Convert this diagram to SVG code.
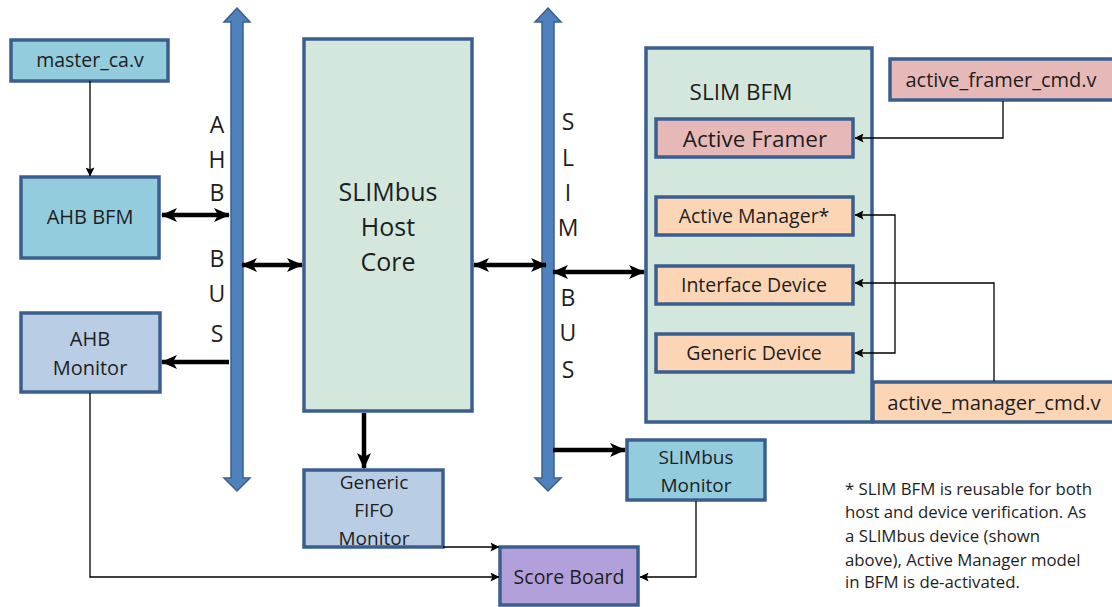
<svg xmlns="http://www.w3.org/2000/svg" width="1112" height="607" viewBox="0 0 1112 607">
<style>
.box{stroke:#3A5F8F;stroke-width:3.5}
.blue{fill:#93CDDD}
.grey{fill:#B9CDE5}
.green{fill:#D3E7DD}
.pink{fill:#E6B9B8}
.peach{fill:#FCD5B5}
.purple{fill:#B2A0DA}
.bus{fill:#4F81BD;stroke:#3A5F8F;stroke-width:1.5}
text{font-family:"Open Sans","Liberation Sans",sans-serif;fill:#1E1E1E;text-anchor:middle}
.thick{stroke:#000;stroke-width:4.5;fill:none}
.thin{stroke:#000;stroke-width:1.3;fill:none}
</style>
<defs>
<marker id="ah" markerUnits="userSpaceOnUse" viewBox="0 0 16 14" markerWidth="16" markerHeight="14" refX="15" refY="7" orient="auto-start-reverse">
<path d="M0,0 L16,7 L0,14 L4,7 z" fill="#000"/>
</marker>
<marker id="as" markerUnits="userSpaceOnUse" viewBox="0 0 10 10" markerWidth="9" markerHeight="9" refX="9.5" refY="5" orient="auto">
<path d="M0,0 L10,5 L0,10 L2,5 z" fill="#000"/>
</marker>
</defs>

<g id="ahb-bus">
<polygon class="bus" points="237,8 250,22 243,22 243,478 250,478 237,491 224,478 231,478 231,22 224,22"/>
<text x="217" y="133" font-size="23">A</text>
<text x="217" y="168" font-size="23">H</text>
<text x="217" y="201" font-size="23">B</text>
<text x="217" y="267" font-size="23">B</text>
<text x="217" y="302" font-size="23">U</text>
<text x="217" y="342" font-size="23">S</text>
</g>
<g id="slim-bus">
<polygon class="bus" points="548,8 561,22 554,22 554,478 561,478 548,491 535,478 542,478 542,22 535,22"/>
<text x="568" y="130" font-size="23">S</text>
<text x="568" y="166" font-size="23">L</text>
<text x="568" y="201" font-size="23">I</text>
<text x="568" y="236" font-size="23">M</text>
<text x="568" y="306" font-size="23">B</text>
<text x="568" y="341" font-size="23">U</text>
<text x="568" y="378" font-size="23">S</text>
</g>

<g id="master_ca">
<rect class="box blue" x="11" y="40" width="157" height="41"/>
<text x="90" y="67" font-size="19.5">master_ca.v</text>
</g>
<g id="ahb_bfm">
<rect class="box blue" x="21" y="177" width="138" height="81"/>
<text x="90" y="224" font-size="20">AHB BFM</text>
</g>
<g id="ahb_monitor">
<rect class="box grey" x="21" y="313" width="139" height="79"/>
<text x="90" y="346" font-size="20">AHB</text>
<text x="90" y="375" font-size="20">Monitor</text>
</g>
<g id="host_core">
<rect class="box green" x="304" y="39" width="168" height="372"/>
<text x="388" y="201" font-size="25">SLIMbus</text>
<text x="388" y="236" font-size="25">Host</text>
<text x="388" y="271" font-size="25">Core</text>
</g>
<g id="fifo_monitor">
<rect class="box grey" x="304" y="470" width="139" height="77"/>
<text x="374" y="489" font-size="19">Generic</text>
<text x="374" y="517" font-size="19">FIFO</text>
<text x="374" y="545" font-size="19">Monitor</text>
</g>
<g id="slimbus_monitor">
<rect class="box blue" x="627" y="440" width="138" height="60"/>
<text x="696" y="464" font-size="19">SLIMbus</text>
<text x="696" y="492" font-size="19">Monitor</text>
</g>
<g id="score_board">
<rect class="box purple" x="500" y="547" width="138" height="58"/>
<text x="569" y="584" font-size="19.5">Score Board</text>
</g>
<g id="slim_bfm">
<rect class="box green" x="646" y="48" width="226" height="374"/>
<text x="741" y="100" font-size="22.5">SLIM BFM</text>
</g>
<g id="active_framer">
<rect class="box pink" x="656" y="119" width="197" height="38"/>
<text x="755" y="147" font-size="22.5">Active Framer</text>
</g>
<g id="active_manager">
<rect class="box peach" x="656" y="197" width="197" height="38"/>
<text x="754" y="223" font-size="19.5">Active Manager*</text>
</g>
<g id="interface_device">
<rect class="box peach" x="656" y="266" width="197" height="38"/>
<text x="754" y="292" font-size="19.5">Interface Device</text>
</g>
<g id="generic_device">
<rect class="box peach" x="656" y="334" width="197" height="38"/>
<text x="754" y="360" font-size="19.5">Generic Device</text>
</g>
<g id="active_framer_cmd">
<rect class="box pink" x="890" y="59" width="224" height="41"/>
<text x="1001" y="87" font-size="20">active_framer_cmd.v</text>
</g>
<g id="active_manager_cmd">
<rect class="box peach" x="873" y="382" width="241" height="40"/>
<text x="994" y="410" font-size="20.3">active_manager_cmd.v</text>
</g>
<g id="note">
<text x="845" y="495" font-size="16.8" style="text-anchor:start">* SLIM BFM is reusable for both</text>
<text x="845" y="518" font-size="16.8" style="text-anchor:start">host and device verification. As</text>
<text x="845" y="542" font-size="16.8" style="text-anchor:start">a SLIMbus device (shown</text>
<text x="845" y="566" font-size="16.8" style="text-anchor:start">above), Active Manager model</text>
<text x="845" y="588" font-size="16.8" style="text-anchor:start">in BFM is de-activated.</text>
</g>

<g id="connectors">
<line class="thin" x1="90" y1="81" x2="90" y2="176" marker-end="url(#as)"/>
<line class="thick" x1="162" y1="215" x2="229" y2="215" marker-start="url(#ah)" marker-end="url(#ah)"/>
<line class="thick" x1="242" y1="265" x2="302" y2="265" marker-start="url(#ah)" marker-end="url(#ah)"/>
<line class="thick" x1="229" y1="362" x2="162" y2="362" marker-end="url(#ah)"/>
<line class="thick" x1="474" y1="265" x2="546" y2="265" marker-start="url(#ah)" marker-end="url(#ah)"/>
<line class="thick" x1="553" y1="272" x2="644" y2="272" marker-start="url(#ah)" marker-end="url(#ah)"/>
<line class="thick" x1="553" y1="450" x2="625" y2="450" marker-end="url(#ah)"/>
<line class="thick" x1="364" y1="413" x2="364" y2="468" marker-end="url(#ah)"/>
<polyline class="thin" points="1003,101 1003,138 855,138" marker-end="url(#as)"/>
<polyline class="thin" points="994,381 994,283 855,283" marker-end="url(#as)"/>
<polyline class="thin" points="895,283 895,215 855,215" marker-end="url(#as)"/>
<polyline class="thin" points="895,283 895,353 855,353" marker-end="url(#as)"/>
<polyline class="thin" points="90,393 90,577 499,577" marker-end="url(#as)"/>
<polyline class="thin" points="443,547 499,547" marker-end="url(#as)"/>
<polyline class="thin" points="696,501 696,577 640,577" marker-end="url(#as)"/>
</g>
</svg>
